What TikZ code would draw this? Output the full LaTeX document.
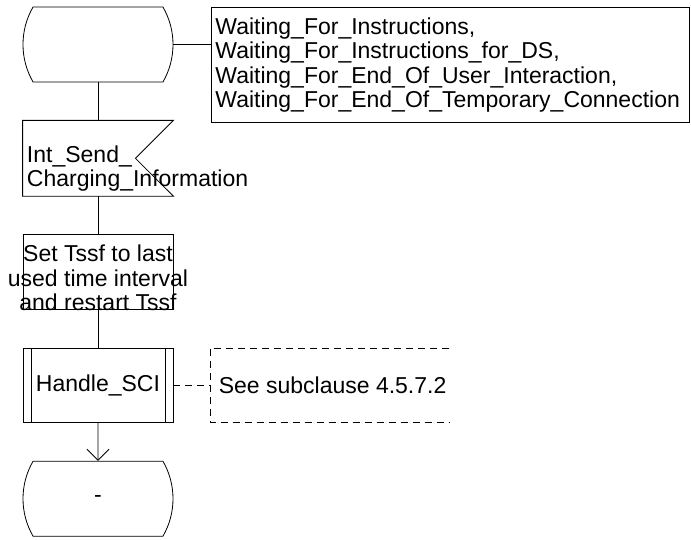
\documentclass[tikz,border=0pt]{standalone}
\usepackage{fontspec}
\setmainfont{Liberation Sans}
\usetikzlibrary{positioning, arrows.meta, shapes.misc}

\newcommand{\sdlfont}{\fontsize{23}{24.5}\selectfont\hyphenpenalty=10000\exhyphenpenalty=10000}

\tikzset{
  sdlbox/.style={font=\sdlfont, minimum width=150pt, minimum height=75pt, inner sep=4pt},
  statebox/.style={sdlbox, draw, rounded rectangle, rounded rectangle arc length=60},
  signalbox/.style={sdlbox, text width=142pt, text height=37pt, align=left},
  taskbox/.style={sdlbox, draw, align=center, text height=78pt, inner xsep=-16pt, inner ysep=-4pt},
  procbox/.style={sdlbox, draw, minimum height=74pt,
    path picture={\draw ([xshift=8pt]path picture bounding box.north west) -- ([xshift=8pt]path picture bounding box.south west)
      ([xshift=-8pt]path picture bounding box.north east) -- ([xshift=-8pt]path picture bounding box.south east);}},
  notebox/.style={font=\sdlfont, draw, minimum width=478pt, minimum height=115pt, text width=470pt, align=left, inner sep=4pt},
  cmtbox/.style={font=\sdlfont, minimum height=74pt, inner xsep=8pt},
  cmtline/.style={dash pattern=on 7pt off 5pt},
  flow/.style={-{Straight Barb[length=11pt, width=22pt]}}
}

\begin{document}
\begin{tikzpicture}[x=1pt, y=1pt, line width=0.8pt]
  \useasboundingbox (0,0) rectangle (691,-540);

  % states and signal
  \node[statebox] (start) at (98,-44.5) {};
  \node[notebox, anchor=north west] (states) at (211,-7) {Waiting\_For\_Instructions,\\
    Waiting\_For\_Instructions\_for\_DS,\\
    Waiting\_For\_End\_Of\_User\_Interaction,\\
    Waiting\_For\_End\_Of\_Temporary\_Connection};
  \node[signalbox, below=38pt of start] (sig) {Int\_Send\_\\Charging\_Information};
  \draw (sig.north west) -- (sig.north east) -- ([xshift=-38pt]sig.east)
    -- (sig.south east) -- (sig.south west) -- cycle;

  % task and procedure call
  \node[taskbox, below=38pt of sig] (task) {Set Tssf to last\\used time interval\\and restart Tssf};
  \node[procbox, below=38pt of task] (proc) {Handle\_SCI};
  \node[cmtbox, right=37pt of proc] (cmt) {See subclause 4.5.7.2};
  \draw[cmtline] ([xshift=239pt]cmt.north west) -- (cmt.north west) -- (cmt.south west)
    -- ([xshift=239pt]cmt.south west);
  \node[statebox, below=38pt of proc] (stop) {-};

  % connectors
  \draw (start.east) -- (start.east -| states.west);
  \draw (start) -- (sig);
  \draw (sig) -- (task);
  \draw (task) -- (proc);
  \draw[cmtline] (proc) -- (cmt);
  \draw[flow] (proc) -- (stop);
\end{tikzpicture}
\end{document}
